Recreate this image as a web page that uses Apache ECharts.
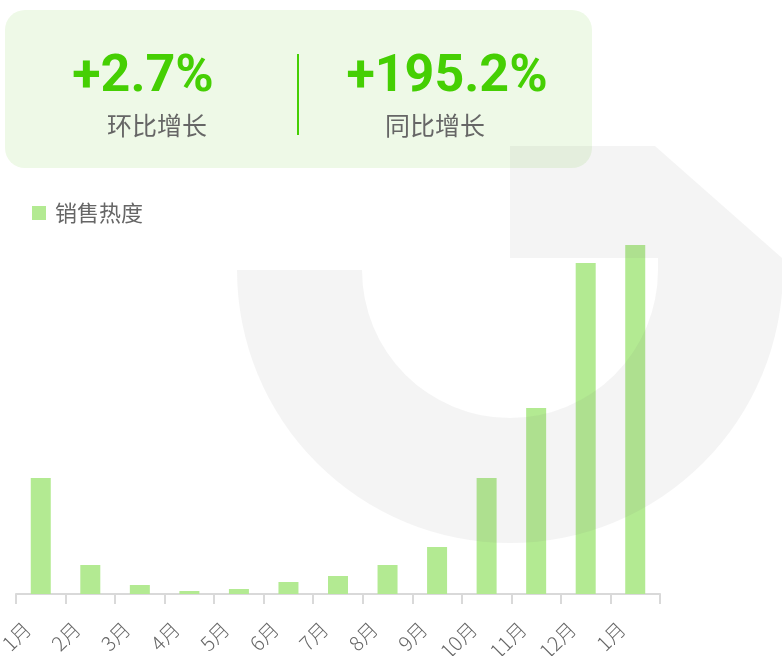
<!DOCTYPE html>
<html lang="zh-CN">
<head>
    <meta charset="UTF-8">
    <title>销售热度</title>
    <script type="text/javascript" src="https://cdn.jsdelivr.net/npm/echarts@6/dist/echarts.min.js"></script>
    <style>
        html, body { margin: 0; padding: 0; background: #fff; }
        #chart { width: 782px; height: 656px; }
    </style>
</head>
<body>
<div id="chart"></div>
<script type="text/javascript">
    var months = ['1月', '2月', '3月', '4月', '5月', '6月', '7月', '8月', '9月', '10月', '11月', '12月', '1月'];
    var heatValues = [116, 29, 9, 3, 5, 12, 18, 29, 47, 116, 186, 331, 349];
    var statValues = ['+2.7%', '+195.2%'];
    var statNames = ['环比增长', '同比增长'];

    var green = '#45cf03';
    var barColor = '#b3ea92';
    var cjk = '"Noto Sans CJK SC", "Noto Sans", sans-serif';
    var mark = 'rgba(120,120,120,0.08)';

    var chart = echarts.init(document.getElementById('chart'));
    chart.setOption({
        animation: false,
        graphic: [
            // 顶部指标卡
            { type: 'rect', z: -10, shape: { x: 5, y: 10, width: 587, height: 158, r: 20 }, style: { fill: '#eef9e7' } },
            { type: 'rect', z: -9, shape: { x: 297, y: 54, width: 2, height: 81 }, style: { fill: green } },
            { type: 'text', z: -9, x: 143, y: 78, style: { text: statValues[0], fill: green, font: 'bold 52px Roboto, sans-serif', textAlign: 'center', textVerticalAlign: 'middle' } },
            { type: 'text', z: -9, x: 157, y: 125, style: { text: statNames[0], fill: '#666', font: '25px ' + cjk, textAlign: 'center', textVerticalAlign: 'middle' } },
            { type: 'text', z: -9, x: 447, y: 78, style: { text: statValues[1], fill: green, font: 'bold 52px Roboto, sans-serif', textAlign: 'center', textVerticalAlign: 'middle' } },
            { type: 'text', z: -9, x: 435, y: 125, style: { text: statNames[1], fill: '#666', font: '25px ' + cjk, textAlign: 'center', textVerticalAlign: 'middle' } },
            // 背景水印
            { type: 'sector', z: 100, silent: true, shape: { cx: 510, cy: 270, r0: 148, r: 273, startAngle: 0, endAngle: Math.PI, clockwise: true }, style: { fill: mark } },
            { type: 'polygon', z: 100, silent: true, shape: { points: [[510, 146], [655, 146], [782, 258], [782, 270], [658, 270], [658, 258], [510, 258]] }, style: { fill: mark } }
        ],
        legend: {
            left: 32,
            top: 202,
            padding: 0,
            itemWidth: 14,
            itemHeight: 14,
            icon: 'rect',
            textStyle: { fontSize: 22, color: '#666', fontFamily: cjk, padding: [0, 0, 0, 4] },
            data: ['销售热度']
        },
        grid: { left: 16, right: 122, top: 194, bottom: 62, containLabel: false, outerBoundsMode: 'none' },
        xAxis: {
            type: 'category',
            data: months,
            axisLine: { show: true, lineStyle: { color: '#d9d9d9', width: 2 } },
            axisTick: { show: true, length: 10, lineStyle: { color: '#d9d9d9', width: 2 } },
            axisLabel: { interval: 0, rotate: 45, fontSize: 20, color: '#666', fontFamily: cjk, fontWeight: 300, margin: 18, padding: [0, 19, 0, 0] }
        },
        yAxis: {
            type: 'value',
            min: 0,
            max: 400,
            show: false,
            splitLine: { show: false }
        },
        series: [{
            name: '销售热度',
            type: 'bar',
            barWidth: 20,
            itemStyle: { color: barColor },
            data: heatValues
        }]
    });
</script>
</body>
</html>
